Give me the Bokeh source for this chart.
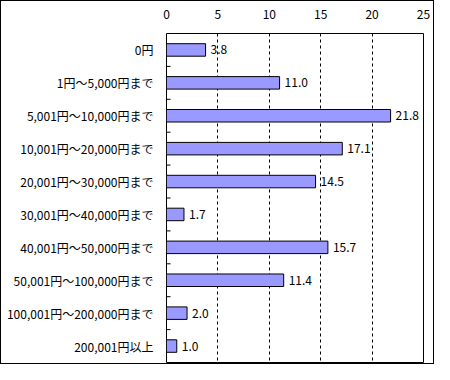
from bokeh.plotting import figure
from bokeh.models import Range1d, FixedTicker, ColumnDataSource
from bokeh.core.properties import value
from bokeh.embed import file_html
from bokeh.resources import INLINE

categories = ["0円", "1円～5,000円まで", "5,001円～10,000円まで", "10,001円～20,000円まで",
              "20,001円～30,000円まで", "30,001円～40,000円まで", "40,001円～50,000円まで",
              "50,001円～100,000円まで", "100,001円～200,000円まで", "200,001円以上"]
values = [3.8, 11.0, 21.8, 17.1, 14.5, 1.7, 15.7, 11.4, 2.0, 1.0]
x_ticks = [0, 5, 10, 15, 20, 25]

FONT = "Noto Sans CJK JP"
n = len(categories)
ypos = [i + 0.5 for i in range(n)]
src = ColumnDataSource(dict(y=ypos, v=values, lab=[f"{v:.1f}" for v in values]))

p = figure(width=434, height=364, output_backend="svg", toolbar_location=None,
           x_range=Range1d(0, 25), y_range=Range1d(n, 0),
           x_axis_location="above",
           min_border_left=165, min_border_right=12, min_border_top=32, min_border_bottom=3)
p.styles = {"border": "1px solid black"}

p.hbar(y="y", left=0, right="v", height=0.38, source=src,
       fill_color="#9999FF", line_color="black", line_width=1)
p.text(x="v", y="y", text="lab", source=src, x_offset=5,
       text_baseline="middle", text_align="left",
       text_font=value(FONT), text_font_size="12px", text_color="black")
p.ray(x=0, y=list(range(1, n)), length=4, angle=0, length_units="screen",
      line_color="black", line_width=1)

p.xaxis.ticker = FixedTicker(ticks=x_ticks)
p.xaxis.major_tick_line_color = None
p.xaxis.minor_tick_line_color = None
p.xaxis.axis_line_color = None
p.xaxis.major_label_standoff = 9
p.xaxis.major_label_text_font = FONT
p.xaxis.major_label_text_font_size = "12px"
p.xaxis.major_label_text_color = "black"

p.yaxis.ticker = FixedTicker(ticks=ypos)
p.yaxis.major_label_overrides = {y: c for y, c in zip(ypos, categories)}
p.yaxis.major_tick_line_color = None
p.yaxis.minor_tick_line_color = None
p.yaxis.axis_line_color = None
p.yaxis.major_label_standoff = 7
p.yaxis.major_label_text_font = FONT
p.yaxis.major_label_text_font_size = "12px"
p.yaxis.major_label_text_color = "black"

p.xgrid.ticker = FixedTicker(ticks=x_ticks[1:-1])
p.xgrid.grid_line_color = "black"
p.xgrid.grid_line_dash = "3 3"
p.ygrid.grid_line_color = None
p.outline_line_color = "black"
p.outline_line_width = 1

open("out.html", "w").write(file_html(p, INLINE))
